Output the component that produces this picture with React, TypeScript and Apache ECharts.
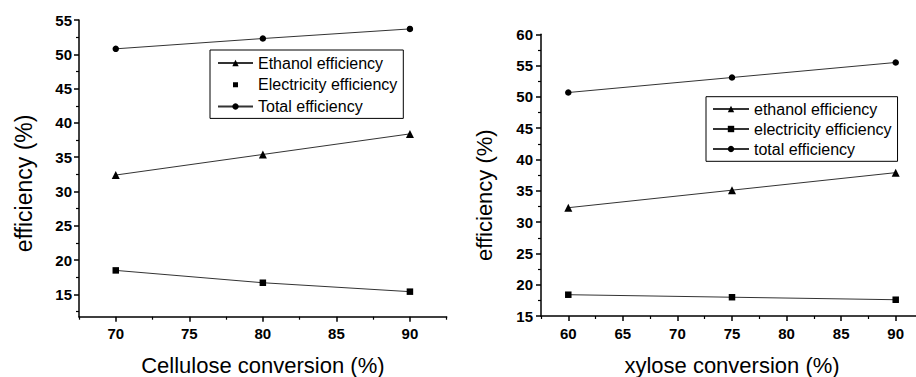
import React, { useEffect, useRef } from "react";
import * as echarts from "echarts";

// Left panel: cellulose conversion
const celluloseX = [70, 80, 90];
const celluloseEthanol = [32.4, 35.4, 38.4];
const celluloseElectricity = [18.5, 16.7, 15.4];
const celluloseTotal = [50.8, 52.3, 53.7];

// Right panel: xylose conversion
const xyloseX = [60, 75, 90];
const xyloseEthanol = [32.3, 35.1, 37.9];
const xyloseElectricity = [18.4, 18.0, 17.6];
const xyloseTotal = [50.7, 53.1, 55.5];

// Tick values
const leftXMajor = [70, 75, 80, 85, 90];
const leftXMinor = [67.5, 72.5, 77.5, 82.5, 87.5, 92.5];
const leftYMajor = [15, 20, 25, 30, 35, 40, 45, 50, 55];
const leftYMinor = [12.5, 17.5, 22.5, 27.5, 32.5, 37.5, 42.5, 47.5, 52.5];
const rightXMajor = [60, 65, 70, 75, 80, 85, 90];
const rightXMinor = [57.5, 62.5, 67.5, 72.5, 77.5, 82.5, 87.5, 92.5];
const rightYMajor = [15, 20, 25, 30, 35, 40, 45, 50, 55, 60];
const rightYMinor = [17.5, 22.5, 27.5, 32.5, 37.5, 42.5, 47.5, 52.5, 57.5];

const FONT = "Arial, 'Liberation Sans', sans-serif";
const squareIcon =
  "path://M0,0h0.01v0.01h-0.01z M1.5,1.5h5v5h-5z M8,8h-0.01v-0.01h0.01z";

const pairs = (xs: number[], ys: number[]) => xs.map((x, i) => [x, ys[i]]);

function majorAxis(
  dim: "x" | "y",
  gridIndex: number,
  min: number,
  max: number,
  majors: number[],
  name: string,
  nameGap: number,
  margin: number,
  nameSize: number,
  namePadding: number[]
) {
  return {
    type: "value",
    gridIndex,
    min,
    max,
    position: dim === "x" ? "bottom" : "left",
    name,
    nameLocation: "middle",
    nameGap,
    nameTextStyle: { fontFamily: FONT, fontSize: nameSize, color: "#000", padding: namePadding },
    axisLine: { show: true, onZero: false, lineStyle: { color: "#000", width: 1.5 } },
    axisTick: {
      show: true,
      inside: false,
      length: 5,
      customValues: majors,
      lineStyle: { color: "#000", width: 1.5 },
    },
    axisLabel: {
      show: true,
      customValues: majors,
      margin,
      fontFamily: FONT,
      fontWeight: "bold",
      fontSize: 15,
      color: "#000",
    },
    splitLine: { show: false },
  };
}

function minorAxis(dim: "x" | "y", gridIndex: number, min: number, max: number, minors: number[]) {
  return {
    type: "value",
    gridIndex,
    min,
    max,
    position: dim === "x" ? "bottom" : "left",
    axisLine: { show: false, onZero: false },
    axisTick: {
      show: true,
      inside: false,
      length: 3,
      customValues: minors,
      lineStyle: { color: "#000", width: 1.2 },
    },
    axisLabel: { show: false },
    splitLine: { show: false },
  };
}

function lineSeries(name: string, xi: number, yi: number, data: number[][], symbol: string, size: number) {
  return {
    type: "line",
    name,
    xAxisIndex: xi,
    yAxisIndex: yi,
    data,
    symbol,
    symbolSize: size,
    color: "#000",
    itemStyle: { color: "#000" },
    lineStyle: { color: "#333", width: 1 },
    emphasis: { disabled: true },
  };
}

export default function App() {
  const ref = useRef<HTMLDivElement>(null);

  useEffect(() => {
    if (!ref.current) return;
    const chart = echarts.init(ref.current, null, { renderer: "svg" });
    const legendCommon = {
      orient: "vertical",
      show: true,
      backgroundColor: "#fff",
      borderColor: "#000",
      borderWidth: 1,
      itemHeight: 8,
      textStyle: { fontFamily: FONT, fontSize: 16, color: "#000" },
      selectedMode: false,
    };
    chart.setOption({
      animation: false,
      backgroundColor: "#fff",
      grid: [
        { left: 79, top: 20, width: 367.7, height: 296.7, containLabel: false, outerBoundsMode: "none" },
        { left: 541, top: 34.3, width: 382, height: 281.7, containLabel: false, outerBoundsMode: "none" },
      ],
      xAxis: [
        majorAxis("x", 0, 67.5, 92.5, leftXMajor, "Cellulose conversion (%)", 38, 9, 22, [0, 0, 0, 0]),
        minorAxis("x", 0, 67.5, 92.5, leftXMinor),
        majorAxis("x", 1, 57.5, 92.5, rightXMajor, "xylose conversion (%)", 38.5, 10, 22, [0, 0, 0, 0]),
        minorAxis("x", 1, 57.5, 92.5, rightXMinor),
      ],
      yAxis: [
        majorAxis("y", 0, 11.75, 55, leftYMajor, "efficiency (%)", 44, 7, 23, [0, 30, 0, 0]),
        minorAxis("y", 0, 11.75, 55, leftYMinor),
        majorAxis("y", 1, 15, 60, rightYMajor, "efficiency (%)", 46, 8, 22, [0, 40, 0, 0]),
        minorAxis("y", 1, 15, 60, rightYMinor),
      ],
      legend: [
        {
          ...legendCommon,
          left: 210,
          top: 50,
          padding: [5, 6, 4, 7],
          itemGap: 5.7,
          itemWidth: 35,
          data: [
            "Ethanol efficiency",
            { name: "Electricity efficiency", icon: squareIcon },
            "Total efficiency",
          ],
        },
        {
          ...legendCommon,
          left: 706,
          top: 96.7,
          padding: [4.3, 6, 4.3, 6],
          itemGap: 4,
          itemWidth: 36,
          data: ["ethanol efficiency", "electricity efficiency", "total efficiency"],
        },
      ],
      series: [
        lineSeries("Ethanol efficiency", 0, 0, pairs(celluloseX, celluloseEthanol), "triangle", 8),
        lineSeries("Electricity efficiency", 0, 0, pairs(celluloseX, celluloseElectricity), "rect", 6.5),
        lineSeries("Total efficiency", 0, 0, pairs(celluloseX, celluloseTotal), "circle", 6.5),
        lineSeries("ethanol efficiency", 2, 2, pairs(xyloseX, xyloseEthanol), "triangle", 8),
        lineSeries("electricity efficiency", 2, 2, pairs(xyloseX, xyloseElectricity), "rect", 6.5),
        lineSeries("total efficiency", 2, 2, pairs(xyloseX, xyloseTotal), "circle", 6.5),
      ],
    });
    return () => chart.dispose();
  }, []);

  return (
    <div
      ref={ref}
      style={{ position: "absolute", left: 0, top: 0, width: 916, height: 377, background: "#fff" }}
    />
  );
}
